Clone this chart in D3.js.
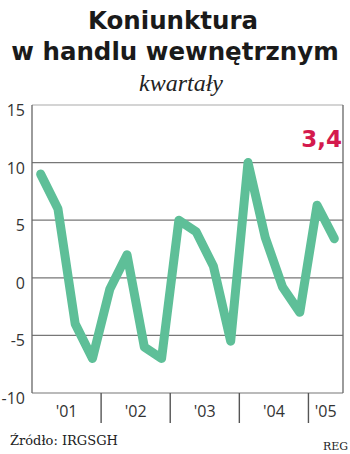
<!DOCTYPE html>
<html lang="pl">
<head>
<meta charset="utf-8">
<script src="https://cdn.jsdelivr.net/npm/d3@7"></script>
<style>
  html, body { margin: 0; padding: 0; background: #fff; }
  svg { display: block; }
</style>
</head>
<body>
<svg id="chart"></svg>
<script>
// Dane: koniunktura w handlu wewnętrznym, kwartały 2001–2005
const YEARS = ["'01", "'02", "'03", "'04", "'05"];
const QUARTERS_PER_YEAR = [4, 4, 4, 4, 2];
const VALUES = [9, 6, -4, -7, -1, 2, -6, -7, 5, 4, 1, -5.5, 10, 3.5, -0.8, -3, 6.3, 3.4];
const Y_TICKS = [-10, -5, 0, 5, 10, 15];
const LAST_LABEL = "3,4";

const W = 350, H = 454;
const plot = { left: 32, right: 343, top: 105, bottom: 393 };

const svg = d3.select("#chart").attr("width", W).attr("height", H);

// Skale
const x = d3.scaleLinear()
  .domain([-0.5, VALUES.length - 0.5])
  .range([plot.left, plot.right]);
const y = d3.scaleLinear()
  .domain([-10, 15])
  .range([plot.bottom, plot.top]);

// Tytuł
const title = svg.append("g")
  .attr("font-family", "DejaVu Sans")
  .attr("font-weight", "bold")
  .attr("font-size", 24.5)
  .attr("fill", "#1a1a1a")
  .attr("text-anchor", "middle");
title.append("text").attr("x", 173).attr("y", 28.5).text("Koniunktura");
title.append("text").attr("x", 175).attr("y", 60).text("w handlu wewnętrznym");

svg.append("text")
  .attr("x", 181).attr("y", 91)
  .attr("text-anchor", "middle")
  .attr("font-family", "Liberation Serif")
  .attr("font-style", "italic")
  .attr("font-size", 24)
  .attr("fill", "#222")
  .text("kwartały");

// Siatka
const gGrid = svg.append("g");
gGrid.selectAll("line.h")
  .data(Y_TICKS)
  .join("line")
  .attr("class", "h")
  .attr("x1", plot.left).attr("x2", plot.right)
  .attr("y1", d => y(d)).attr("y2", d => y(d))
  .attr("stroke", d => d === 15 ? "#aaa" : "#777")
  .attr("stroke-width", 1.2);

// Ramka boczna
[plot.left, plot.right].forEach(px => {
  gGrid.append("line")
    .attr("x1", px).attr("x2", px)
    .attr("y1", plot.top).attr("y2", plot.bottom)
    .attr("stroke", "#666")
    .attr("stroke-width", 1.3);
});

// Oś Y
svg.append("g")
  .attr("font-family", "Open Sans")
  .attr("font-size", 16)
  .attr("fill", "#333")
  .attr("text-anchor", "end")
  .selectAll("text")
  .data(Y_TICKS)
  .join("text")
  .attr("x", 25)
  .attr("y", d => y(d) + 11)
  .text(d => d);

// Oś X: granice lat i etykiety
const bounds = [];
let acc = 0;
QUARTERS_PER_YEAR.forEach(n => { bounds.push([acc, acc + n]); acc += n; });

const gX = svg.append("g");
gX.selectAll("line")
  .data(bounds.slice(1))
  .join("line")
  .attr("x1", d => x(d[0] - 0.5)).attr("x2", d => x(d[0] - 0.5))
  .attr("y1", plot.bottom).attr("y2", 423)
  .attr("stroke", "#555")
  .attr("stroke-width", 1.4);

gX.selectAll("text")
  .data(bounds)
  .join("text")
  .attr("x", (d, i) => (x(d[0] - 0.5) + x(d[1] - 0.5)) / 2)
  .attr("y", 417)
  .attr("text-anchor", "middle")
  .attr("font-family", "Open Sans")
  .attr("font-size", 16)
  .attr("fill", "#333")
  .text((d, i) => YEARS[i]);

// Linia
const line = d3.line()
  .x((d, i) => x(i))
  .y(d => y(d));

svg.append("path")
  .datum(VALUES)
  .attr("d", line)
  .attr("fill", "none")
  .attr("stroke", "#5ebf98")
  .attr("stroke-width", 9)
  .attr("stroke-linejoin", "round")
  .attr("stroke-linecap", "round");

// Ostatnia wartość
svg.append("text")
  .attr("x", 342).attr("y", 147)
  .attr("text-anchor", "end")
  .attr("font-family", "DejaVu Sans")
  .attr("font-weight", "bold")
  .attr("font-size", 23)
  .attr("fill", "#d41a4d")
  .text(LAST_LABEL);

// Źródło
svg.append("text")
  .attr("x", 10).attr("y", 445)
  .attr("font-family", "DejaVu Serif")
  .attr("font-size", 13)
  .attr("fill", "#222")
  .text("Źródło: IRGSGH");

svg.append("text")
  .attr("x", 348).attr("y", 450)
  .attr("text-anchor", "end")
  .attr("font-family", "DejaVu Serif")
  .attr("font-size", 11)
  .attr("fill", "#222")
  .text("REG");
</script>
</body>
</html>
